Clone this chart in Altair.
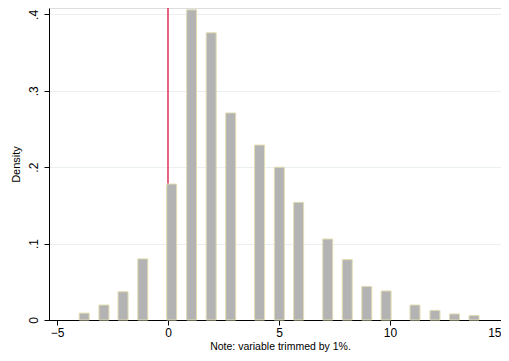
import altair as alt
import pandas as pd

# histogram bars (left edge, right edge, density)
bin_left = [-4.00, -3.11, -2.25, -1.36, -0.06, 0.84, 1.72, 2.60, 3.90, 4.79,
            5.66, 6.97, 7.85, 8.73, 9.60, 10.90, 11.80, 12.68, 13.56]
bar_width = 0.45
density = [0.009, 0.0196, 0.037, 0.080, 0.178, 0.406, 0.376, 0.271, 0.229, 0.200,
           0.154, 0.106, 0.079, 0.044, 0.038, 0.0196, 0.0126, 0.0079, 0.006]
x_ticks = [-5, 0, 5, 10, 15]
y_ticks = [0, 0.1, 0.2, 0.3, 0.4]
ref_x = 0

df = pd.DataFrame({
    "x": bin_left,
    "x2": [v + bar_width for v in bin_left],
    "d": density,
    "base": [0.0] * len(density),
})

FONT = "Liberation Sans"
xscale = alt.Scale(domain=[-5.36, 15.0], nice=False, zero=False)
yscale = alt.Scale(domain=[0, 0.4084], nice=False)

label_expr = "datum.value == 0 ? '0' : replace(format(datum.value, '.1f'), '0.', '.')"

bars = alt.Chart(df).mark_rect(
    fill="#b3b3b3", stroke="#e2ddb2", strokeWidth=1
).encode(
    x=alt.X("x:Q", scale=xscale,
            axis=alt.Axis(values=x_ticks, title="Note: variable trimmed by 1%.",
                          titleFontSize=10.5, titleFontWeight="normal", titleFont=FONT,
                          titleColor="#000000", titlePadding=3, titleX=231,
                          labelFont=FONT, labelFontSize=12, labelColor="#000000",
                          labelPadding=2, tickSize=5, tickColor="#000000",
                          labelAlign={"condition": {"test": "datum.value == 15", "value": "right"},
                                      "value": "center"},
                          domainColor="#000000", grid=False, labelFlush=False,
                          labelOverlap=False, labelBound=False)),
    x2="x2:Q",
    y=alt.Y("d:Q", scale=yscale,
            axis=alt.Axis(values=y_ticks, title="Density", labelExpr=label_expr,
                          titleFont=FONT, titleFontSize=11, titleFontWeight="normal",
                          titleColor="#000000", titlePadding=6,
                          labelFont=FONT, labelFontSize=12, labelColor="#000000",
                          labelAngle=-90, labelAlign="center", labelBaseline="bottom",
                          labelPadding=4, tickSize=5, tickColor="#000000",
                          domainColor="#000000", grid=True, gridColor="#eaf0f0",
                          gridWidth=1.2)),
    y2="base:Q",
)

rule = alt.Chart(pd.DataFrame({"x": [ref_x]})).mark_rule(
    color="#e0305a", strokeWidth=1.5
).encode(x=alt.X("x:Q", scale=xscale))

chart = alt.layer(rule, bars).properties(
    width=452, height=312,
    autosize=alt.AutoSizeParams(type="none"),
    padding={"left": 41, "top": 0, "right": 0, "bottom": 33},
).configure_view(stroke=None).configure(background="white")

chart.save("out.html", embed_options={"renderer": "svg", "actions": False})
